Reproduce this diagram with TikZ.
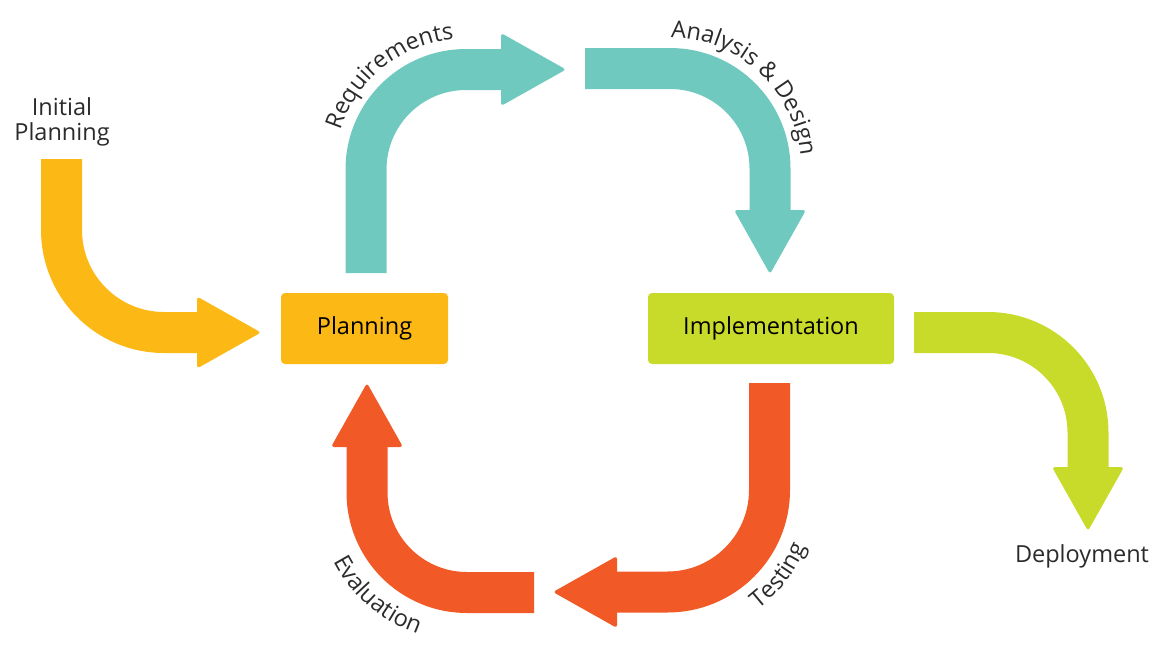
\documentclass[tikz,border=0pt]{standalone}
\usepackage{fontspec}
\setmainfont{Open Sans}
\usetikzlibrary{decorations.text}

\definecolor{myyellow}{HTML}{FCB815}
\definecolor{myteal}{HTML}{6FC9BF}
\definecolor{mygreen}{HTML}{C9DB2A}
\definecolor{myorange}{HTML}{F15A26}
\definecolor{mytext}{HTML}{2B2B2B}

\tikzset{
	every picture/.append style={x=1pt,y=1pt,font=\fontsize{23.5}{25}\selectfont},
	mybox/.style = {rectangle, rounded corners=4pt, minimum width=167pt, minimum height=71pt, text=black},
	mylabel/.style = {align=center, text=mytext},
	myshaft/.style = {line width=41pt, line cap=butt},
	myhead/.style = {rounded corners=3pt},
	mycurved/.style = {decorate, decoration={text along path, text align=center, text color=mytext, text={#1}}}
}

\begin{document}
\begin{tikzpicture}
				\useasboundingbox (0,0) rectangle (1164,-646);
				% boxes and labels
				\node[mybox, fill=myyellow] at (364.5,-328.5) (plan) {Planning};
				\node[mybox, fill=mygreen, minimum width=246pt] at (771,-328.5) (impl) {Implementation};
				\node[mylabel] at (62,-122) (init) {Initial\\Planning};
				\node[mylabel] at (1082,-556) (depl) {Deployment};
				% end points of the arrows
				\coordinate (y0) at (61.5,-159);
				\coordinate (y1) at (197,-332.5);
				\coordinate (r0) at (366,-273);
				\coordinate (r1) at (501,-69.5);
				\coordinate (a0) at (585,-68.5);
				\coordinate (a1) at (770,-210);
				\coordinate (d0) at (914,-332.5);
				\coordinate (d1) at (1088,-467);
				\coordinate (t0) at (769.5,-383);
				\coordinate (t1) at (617,-592);
				\coordinate (e0) at (534,-592.5);
				\coordinate (e1) at (367,-447);
				% initial planning
				\draw[myshaft, myyellow] (y0) -- (61.5,-230) arc[start angle=180, end angle=270, radius=102.5] -- (y1);
				\fill[myhead, myyellow] ([yshift=36]y1) -- ([xshift=64]y1) -- ([yshift=-36]y1) -- cycle;
				% requirements
				\draw[myshaft, myteal] (r0) -- (366,-169.5) arc[start angle=180, end angle=90, radius=100] -- (r1);
				\fill[myhead, myteal] ([yshift=36.5]r1) -- ([xshift=65]r1) -- ([yshift=-36.5]r1) -- cycle;
				% analysis & design
				\draw[myshaft, myteal] (a0) -- (670,-68.5) arc[start angle=90, end angle=0, radius=100] -- (a1);
				\fill[myhead, myteal] ([xshift=-36]a1) -- ([yshift=-64]a1) -- ([xshift=36]a1) -- cycle;
				% deployment
				\draw[myshaft, mygreen] (d0) -- (988,-332.5) arc[start angle=90, end angle=0, radius=100] -- (d1);
				\fill[myhead, mygreen] ([xshift=-36]d1) -- ([yshift=-64]d1) -- ([xshift=36]d1) -- cycle;
				% testing
				\draw[myshaft, myorange] (t0) -- (769.5,-490) arc[start angle=0, end angle=-90, radius=102] -- (t1);
				\fill[myhead, myorange] ([yshift=36]t1) -- ([xshift=-64]t1) -- ([yshift=-36]t1) -- cycle;
				% evaluation
				\draw[myshaft, myorange] (e0) -- (467,-592.5) arc[start angle=270, end angle=180, radius=100] -- (e1);
				\fill[myhead, myorange] ([xshift=-36]e1) -- ([yshift=64]e1) -- ([xshift=36]e1) -- cycle;
				% curved labels
				\fontsize{23.5}{25}\selectfont
				\path[mycurved={Requirements}] ([shift={(169:131)}]466,-169.5) arc[start angle=169, end angle=89, radius=131];
				\path[mycurved={Analysis {\&} Design}] ([shift={(92:131)}]670,-168.5) arc[start angle=92, end angle=3, radius=131];
				\path[mycurved={Testing}] ([shift={(-62:150)}]667.5,-490) arc[start angle=-62, end angle=-13, radius=150];
				\path[mycurved={Evaluation}] ([shift={(200:150)}]467,-492.5) arc[start angle=200, end angle=258, radius=150];
			\end{tikzpicture}
\end{document}
